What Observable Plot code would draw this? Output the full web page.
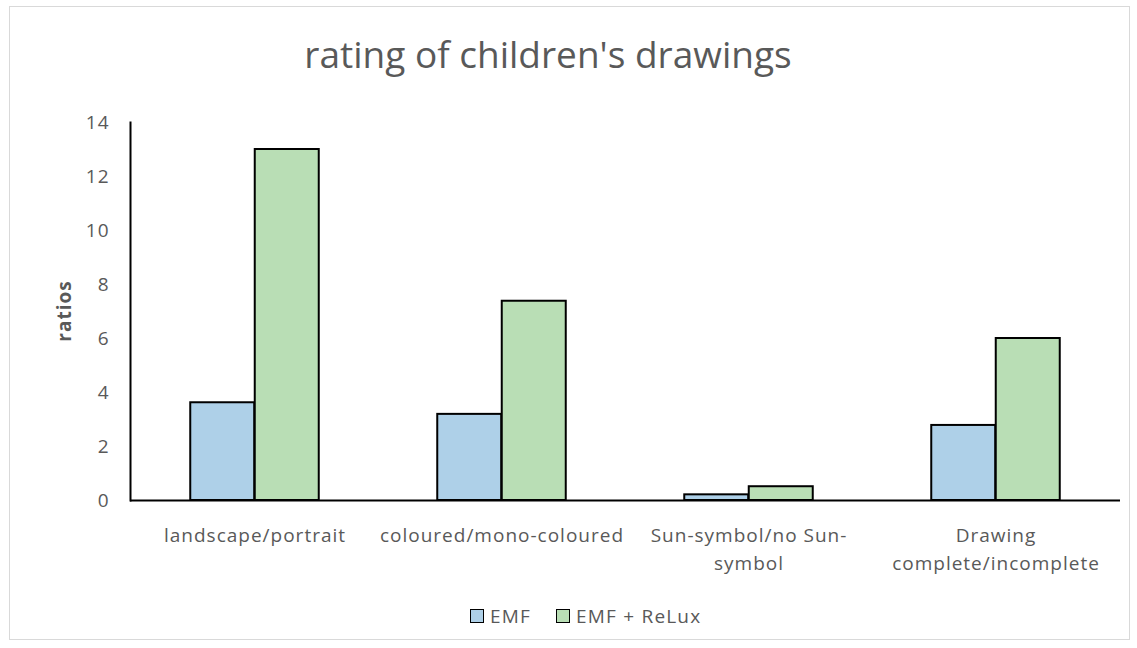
<!DOCTYPE html>
<html>
<head>
<meta charset="utf-8">
<script src="https://cdn.jsdelivr.net/npm/d3@7"></script>
<script src="https://cdn.jsdelivr.net/npm/@observablehq/plot@0.6"></script>
<style>
  html, body { margin: 0; padding: 0; background: #fff; }
  #wrap { position: relative; width: 1137px; height: 648px; overflow: hidden; font-family: "Open Sans", Lato, sans-serif; }
  #box { position: absolute; left: 9px; top: 6px; width: 1121px; height: 634px; border: 1.5px solid #d9d9d9; box-sizing: border-box; }
  #title { position: absolute; left: 0; width: 1096px; top: 30px; text-align: center; font-size: 37px; color: #595959; line-height: 1.3; }
  #ylab { position: absolute; left: 64px; top: 311px; transform: translate(-50%, -50%) rotate(-90deg); font-size: 19px; letter-spacing: 1px; font-weight: bold; color: #595959; }
  #legend { position: absolute; left: 470px; top: 603px; display: flex; align-items: center; font-size: 19px; letter-spacing: 1.2px; color: #595959; }
  .sw { display: inline-block; width: 12px; height: 12px; border: 1.5px solid #000; margin-right: 6px; }
  .item { display: flex; align-items: center; margin-right: 25px; }
  #chart { position: absolute; left: 0; top: 0; }
</style>
</head>
<body>
<div id="wrap">
  <div id="box"></div>
  <div id="chart"></div>
  <div id="title">rating of children's drawings</div>
  <div id="ylab">ratios</div>
  <div id="legend"></div>
</div>
<script>
const categories = ["landscape/portrait", "coloured/mono-coloured", "Sun-symbol/no Sun-symbol", "Drawing complete/incomplete"];
const categoryLabels = ["landscape/portrait", "coloured/mono-coloured", "Sun-symbol/no Sun-\nsymbol", "Drawing\ncomplete/incomplete"];
const seriesNames = ["EMF", "EMF + ReLux"];
const emfValues = [3.62, 3.19, 0.21, 2.78];
const reluxValues = [13.0, 7.38, 0.51, 6.0];
const seriesColors = ["#aed0e8", "#b9deb5"];
const yTicks = [0, 2, 4, 6, 8, 10, 12, 14];

const labelOf = new Map(categories.map((c, i) => [c, categoryLabels[i]]));
const emfData = categories.map((c, i) => ({cat: c, series: seriesNames[0], value: emfValues[i]}));
const reluxData = categories.map((c, i) => ({cat: c, series: seriesNames[1], value: reluxValues[i]}));

const plot = Plot.plot({
  width: 1137,
  height: 648,
  marginLeft: 130,
  marginRight: 17,
  marginTop: 122,
  marginBottom: 148,
  style: {background: "transparent", fontFamily: "'Open Sans', Lato, sans-serif", letterSpacing: "1px"},
  x: {domain: categories, padding: 0, label: null},
  y: {domain: [0, 14], label: null},
  color: {domain: seriesNames, range: seriesColors},
  marks: [
    Plot.barY(emfData, {x: "cat", y: "value", fill: "series", stroke: "#000", strokeWidth: 2, insetLeft: 59.25, insetRight: 123.75}),
    Plot.barY(reluxData, {x: "cat", y: "value", fill: "series", stroke: "#000", strokeWidth: 2, insetLeft: 123.75, insetRight: 59.25}),
    Plot.ruleY([0], {stroke: "#000", strokeWidth: 2}),
    Plot.frame({anchor: "left", stroke: "#000", strokeWidth: 2}),
    Plot.axisY({ticks: yTicks, tickSize: 0, tickPadding: 21, fontSize: 19, color: "#595959", label: null}),
    Plot.axisX({tickSize: 0, tickPadding: 21, fontSize: 19, color: "#595959", lineHeight: 1.5, tickFormat: d => labelOf.get(d), label: null})
  ]
});
document.getElementById("chart").appendChild(plot);

const legend = document.getElementById("legend");
seriesNames.forEach((s, i) => {
  const item = document.createElement("div");
  item.className = "item";
  const sw = document.createElement("span");
  sw.className = "sw";
  sw.style.background = seriesColors[i];
  item.appendChild(sw);
  item.appendChild(document.createTextNode(s));
  legend.appendChild(item);
});
</script>
</body>
</html>
